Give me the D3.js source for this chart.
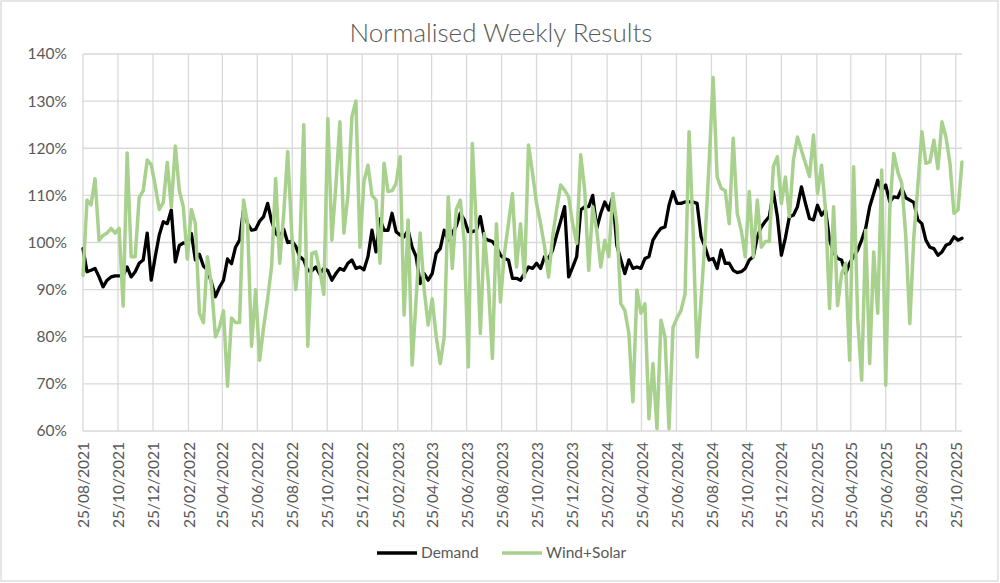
<!DOCTYPE html>
<html>
<head>
<meta charset="utf-8">
<script src="https://cdn.jsdelivr.net/npm/d3@7"></script>
<style>
  html, body { margin: 0; padding: 0; background: #fff; }
  svg text { font-family: Lato, "Open Sans", sans-serif; fill: #595959; }
</style>
</head>
<body>
<div id="chart"></div>
<script>
// weekly series, starting 25/08/2021
const startDate = "25/08/2021";

const demand = [
  98.7, 93.8, 94.1, 94.5, 92.7, 90.6, 92, 92.7, 92.9, 92.9,
  93, 94.8, 92.7, 93.8, 95.6, 96.3, 102, 92, 97, 101.6,
  104.4, 104, 106.9, 95.9, 99.4, 99.9, 99.8, 101.9, 96.3, 97.5,
  95, 94.2, 91.5, 88.5, 90.5, 92, 96.5, 95.5, 99, 100.5,
  107, 104, 102.6, 102.8, 104.5, 105.5, 108.3, 104.5, 102, 101,
  102.8, 100, 100.3, 99.2, 97, 96.3, 94, 94, 94.8, 93.3,
  94.5, 94, 92, 93.4, 94.5, 94.1, 95.6, 96.3, 94.5, 94.8,
  94.2, 97, 102.6, 98, 105, 102.6, 102.6, 106.2, 102.3, 101.6,
  101.2, 102.6, 99, 97, 91.3, 93.4, 92, 93.4, 97.7, 98.7,
  102.6, 100.5, 102, 103.5, 106.2, 104.8, 102.3, 102.3, 102.6, 105.5,
  100.9, 100.5, 100.2, 99.1, 97.3, 96.6, 96.3, 92.4, 92.4, 92,
  93.4, 94.8, 94.5, 95.6, 94.5, 97, 96.6, 98.4, 101.6, 104.5,
  107.6, 92.7, 94.8, 97, 106.9, 107.6, 107.6, 110, 103, 106.2,
  108.6, 106.9, 109.7, 99.4, 96.3, 93.4, 96.3, 94.5, 94.8, 94.5,
  96.6, 97, 100.5, 101.9, 103, 103.3, 107.9, 110.8, 108.3, 108.3,
  108.6, 108.6, 108.6, 108.3, 101.2, 99, 96.3, 96.6, 94.5, 98.4,
  95.6, 95.6, 94.1, 93.6, 93.8, 94.5, 96.3, 97, 101.2, 103.3,
  104.5, 105.5, 110.8, 105.5, 97.3, 101, 105.5, 105.8, 107.6, 111.8,
  108.3, 105.1, 104.8, 107.9, 105.8, 106.9, 100.5, 98, 96.6, 96.3,
  93.4, 95.6, 97, 98.4, 100.5, 103, 107.6, 110.4, 113.2, 111,
  112.2, 108.6, 109.7, 109.5, 111.5, 109.5, 109, 108.5, 104.8, 104,
  100.5, 99, 98.7, 97.3, 98, 99.4, 99.8, 101.2, 100.5, 100.9
];

const windSolar = [
  93, 109, 108, 113.5, 100.5, 101.5, 102, 103, 102, 103,
  86.5, 119, 97, 97, 109.5, 111, 117.5, 116.5, 112, 107,
  108.5, 117, 107.5, 120.5, 111, 107.5, 96.5, 107, 104, 85,
  83, 97, 91, 80, 82, 85.5, 69.5, 84, 83, 83,
  109, 104, 78, 90, 75, 82, 88, 95, 113.6, 95.6,
  106, 119.3, 102, 90, 98.4, 125, 78, 97.7, 98, 94,
  89, 126.3, 100.5, 112, 125.6, 102, 110, 126.7, 130, 99,
  113, 116.4, 110, 109, 95.6, 116.8, 110.8, 111, 112.5, 118.2,
  84.6, 104.8, 74, 88, 102, 90, 82.5, 88, 80, 74.3,
  80, 109.7, 94.5, 107, 109, 100, 73.6, 121, 103.3, 80.7,
  101.9, 91.3, 75.4, 104, 87.4, 97.7, 104, 110.4, 94.8, 104,
  92.7, 120.7, 114.7, 108.3, 104, 99.1, 92.7, 101.2, 107, 112.2,
  111.1, 109.7, 104, 99.8, 118.6, 111.1, 94.1, 107.6, 102.6, 94.8,
  100.5, 97, 110.4, 104, 87, 85.6, 80.7, 66.2, 89.9, 85,
  87, 62.6, 74.3, 60.5, 83.5, 80, 60.5, 82, 84, 85.6,
  89.1, 123.5, 102.6, 75.7, 88, 101, 117, 135, 113.9, 111.5,
  111, 104, 122.1, 106.2, 102.6, 97, 110.8, 97, 109, 99,
  100.2, 100.2, 116.1, 118.2, 108.3, 113.9, 105.5, 117.5, 122.4, 119.6,
  116.8, 114, 122.8, 110.4, 116.4, 106.9, 86, 107.6, 86.6, 93.4,
  95.6, 75, 116.1, 84, 70.8, 102.6, 74.3, 98, 85, 115.4,
  69.7, 106.9, 118.9, 115, 112.5, 101.2, 82.8, 101.2, 112, 123.5,
  116.8, 117.1, 121.7, 115.7, 125.6, 122.4, 116.8, 106.2, 106.9, 117.1
];

const xTickLabels = [
  "25/08/2021", "25/10/2021", "25/12/2021", "25/02/2022", "25/04/2022", "25/06/2022",
  "25/08/2022", "25/10/2022", "25/12/2022", "25/02/2023", "25/04/2023", "25/06/2023",
  "25/08/2023", "25/10/2023", "25/12/2023", "25/02/2024", "25/04/2024", "25/06/2024",
  "25/08/2024", "25/10/2024", "25/12/2024", "25/02/2025", "25/04/2025", "25/06/2025",
  "25/08/2025", "25/10/2025"
];

const yTicks = [60, 70, 80, 90, 100, 110, 120, 130, 140];

const seriesNames = ["Demand", "Wind+Solar"];
const seriesColors = ["#000000", "#a9d18e"];

const W = 1000, H = 583;
const plot = { left: 83, right: 962, top: 54, bottom: 431 };

const parse = d3.timeParse("%d/%m/%Y");
const fmt = d3.timeFormat("%d/%m/%Y");
const t0 = parse(startDate);
const dates = demand.map((_, i) => d3.timeDay.offset(t0, 7 * i));
const tickDates = xTickLabels.map(parse);

const svg = d3.select("#chart").append("svg")
  .attr("width", W).attr("height", H);

// chart border
svg.append("rect")
  .attr("x", 1).attr("y", 1).attr("width", W - 3).attr("height", H - 3)
  .attr("fill", "#fff").attr("stroke", "#d9d9d9").attr("stroke-width", 1.3);

const x = d3.scaleTime()
  .domain([dates[0], dates[dates.length - 1]])
  .range([plot.left, plot.right]);
const y = d3.scaleLinear().domain([60, 140]).range([plot.bottom, plot.top]);

// gridlines
const grid = svg.append("g").attr("stroke", "#d9d9d9").attr("stroke-width", 1.3);
grid.selectAll(".hg").data(yTicks).join("line")
  .attr("x1", plot.left).attr("x2", plot.right)
  .attr("y1", d => y(d)).attr("y2", d => y(d));
grid.selectAll(".vg").data(tickDates).join("line")
  .attr("x1", d => x(d)).attr("x2", d => x(d))
  .attr("y1", plot.top).attr("y2", plot.bottom);

// y axis
const yAxis = svg.append("g")
  .attr("transform", `translate(${plot.left},0)`)
  .call(d3.axisLeft(y).tickValues(yTicks).tickFormat(d => d + "%").tickSize(0).tickPadding(16));
yAxis.select(".domain").remove();
yAxis.selectAll("text").style("font-size", "15.5px").attr("fill", "#595959");

// x axis, rotated labels
const xAxis = svg.append("g")
  .attr("transform", `translate(0,${plot.bottom})`)
  .call(d3.axisBottom(x).tickValues(tickDates).tickFormat(fmt).tickSize(0));
xAxis.select(".domain").remove();
xAxis.selectAll("text")
  .style("font-size", "15.5px").attr("fill", "#595959")
  .attr("text-anchor", "end")
  .attr("transform", "rotate(-90)")
  .attr("x", -11).attr("y", 0).attr("dy", "0.36em");

// lines
const line = d3.line().x((d, i) => x(dates[i])).y(d => y(d));
[demand, windSolar].forEach((s, i) => {
  svg.append("path")
    .datum(s)
    .attr("fill", "none")
    .attr("stroke", seriesColors[i])
    .attr("stroke-width", i === 0 ? 3.3 : 3.5)
    .attr("stroke-linejoin", "round")
    .attr("stroke-linecap", "round")
    .attr("d", line);
});

// title
svg.append("text")
  .attr("x", 501).attr("y", 42)
  .attr("text-anchor", "middle")
  .style("font-size", "26px").style("font-weight", 300)
  .text("Normalised Weekly Results");

// legend
const legendX = [377, 502];
const lg = svg.append("g");
seriesNames.forEach((name, i) => {
  lg.append("line")
    .attr("x1", legendX[i]).attr("x2", legendX[i] + 40)
    .attr("y1", 553).attr("y2", 553)
    .attr("stroke", seriesColors[i]).attr("stroke-width", 3.3);
  lg.append("text")
    .attr("x", legendX[i] + 44).attr("y", 553).attr("dy", "0.35em")
    .style("font-size", "15.5px")
    .text(name);
});
</script>
</body>
</html>
